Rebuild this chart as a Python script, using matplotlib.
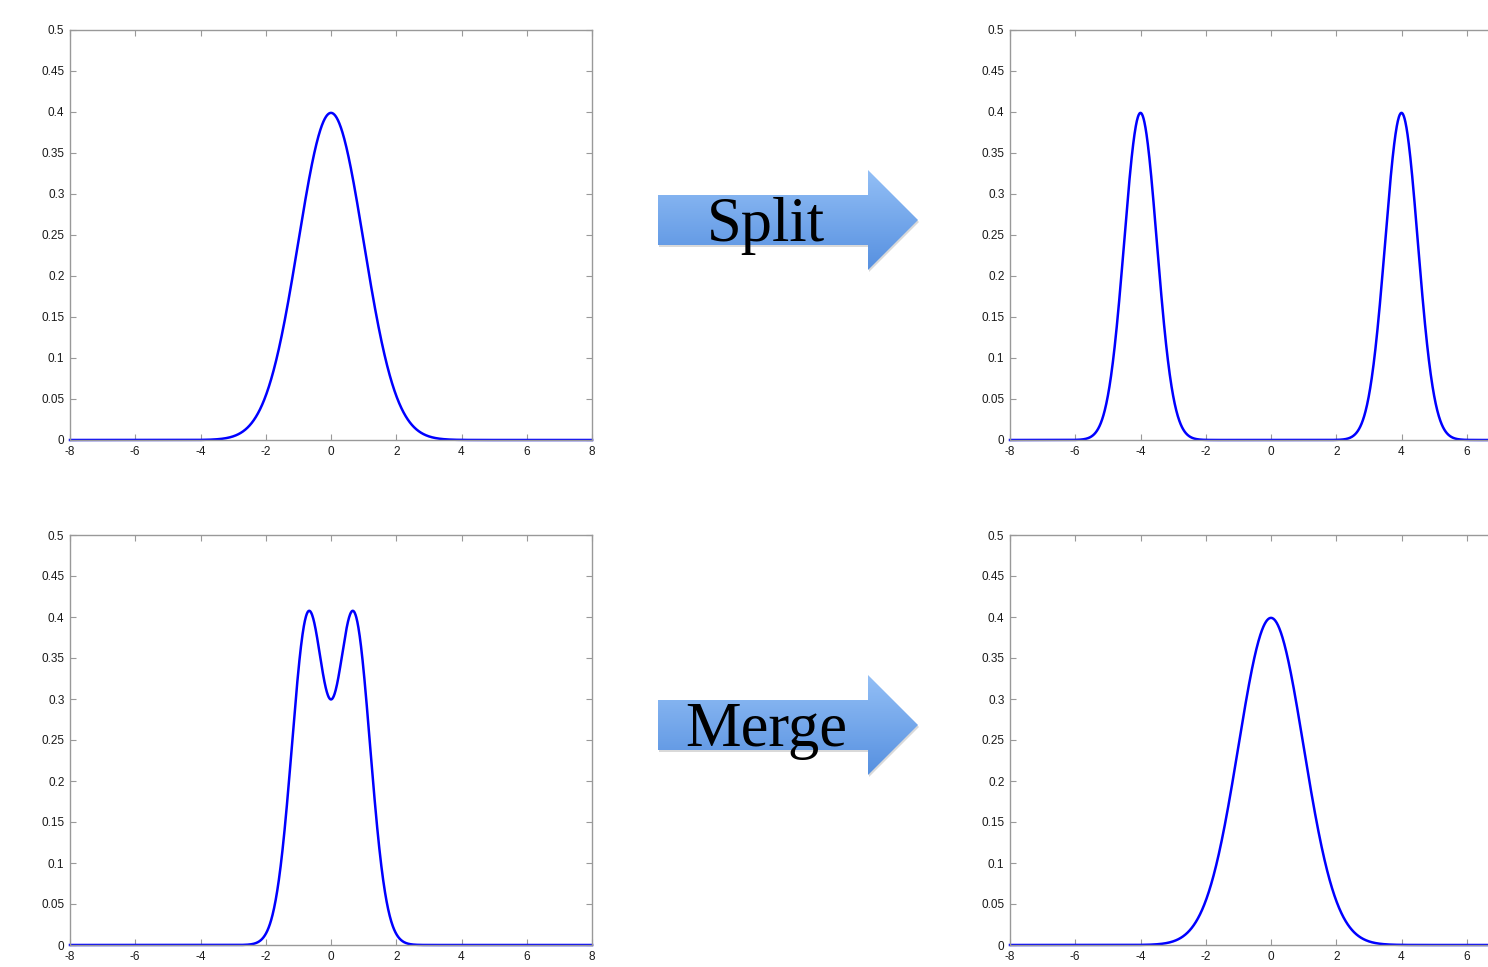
import matplotlib.pyplot as plt
import numpy as np
from matplotlib.patches import Polygon
from matplotlib.colors import LinearSegmentedColormap

# mixture parameters: (means, sigmas, weights)
panel_names = ["before_split", "after_split", "before_merge", "after_merge"]
means = [[0.0], [-4.0, 4.0], [-0.7, 0.7], [0.0]]
sigmas = [[1.0], [0.5, 0.5], [0.5, 0.5], [1.0]]
weights = [[1.0], [0.5, 0.5], [0.5, 0.5], [1.0]]

x_ticks = [-8, -6, -4, -2, 0, 2, 4, 6, 8]
y_ticks = [0, 0.05, 0.1, 0.15, 0.2, 0.25, 0.3, 0.35, 0.4, 0.45, 0.5]
arrow_labels = ["Split", "Merge"]

W, H = 1488, 967
fig = plt.figure(figsize=(W / 100, H / 100), dpi=100)

# axes boxes in pixels: (left, top); right column runs past the figure edge
boxes = [(70, 30), (1010, 30), (70, 535), (1010, 535)]
box_w, box_h = 522, 410


def mixture(x, mu, sd, w):
    y = np.zeros_like(x)
    for m, s, a in zip(mu, sd, w):
        y += a * np.exp(-0.5 * ((x - m) / s) ** 2) / (s * np.sqrt(2 * np.pi))
    return y


xs = np.linspace(-8, 8, 2001)
for i, (left, top) in enumerate(boxes):
    ax = fig.add_axes([left / W, 1 - (top + box_h) / H, box_w / W, box_h / H])
    ax.plot(xs, mixture(xs, means[i], sigmas[i], weights[i]), color="#0000ff", linewidth=1.8, clip_on=False)
    ax.set_xlim(-8, 8)
    ax.set_ylim(0, 0.5)
    ax.set_xticks(x_ticks)
    ax.set_yticks(y_ticks)
    xl = [f"{t:g}" for t in x_ticks]
    if left > W / 2:
        xl[-1] = ""  # falls outside the picture anyway
    ax.set_xticklabels(xl)
    ax.set_yticklabels([f"{t:g}" for t in y_ticks])
    ax.tick_params(direction="in", length=4, width=0.8, color="#999999", labelsize=8.5,
                   labelcolor="#1a1a1a", top=True, right=True, pad=4)
    for lab in ax.get_xticklabels() + ax.get_yticklabels():
        lab.set_family("Liberation Sans")
    for sp in ax.spines.values():
        sp.set_color("#999999")
        sp.set_linewidth(1.0)

# overlay for the arrows, in pixel coordinates
ov = fig.add_axes([0, 0, 1, 1])
ov.axis("off")
ov.patch.set_alpha(0)

grad = np.linspace(0, 1, 256).reshape(-1, 1)
cmap = LinearSegmentedColormap.from_list("arr", ["#93bff6", "#5690e0"])

for label, cy in zip(arrow_labels, [220, 725]):
    pts = [(658, cy - 25), (868, cy - 25), (868, cy - 50), (918, cy),
           (868, cy + 50), (868, cy + 25), (658, cy + 25)]
    shadow = Polygon([(px + 1, py + 2) for px, py in pts], closed=True,
                     facecolor="#000000", alpha=0.15, edgecolor="none", zorder=1)
    ov.add_patch(shadow)
    poly = Polygon(pts, closed=True, facecolor="none", edgecolor="none")
    ov.add_patch(poly)
    im = ov.imshow(grad, extent=(658, 918, cy + 50, cy - 50), cmap=cmap, aspect="auto", zorder=2)
    im.set_clip_path(poly)
    ov.text(766, cy + 6, label, ha="center", va="center", fontsize=45,
            family="Liberation Serif", color="black", zorder=3)

ov.set_xlim(0, W)
ov.set_ylim(H, 0)

fig.savefig("out.png", dpi=100)
